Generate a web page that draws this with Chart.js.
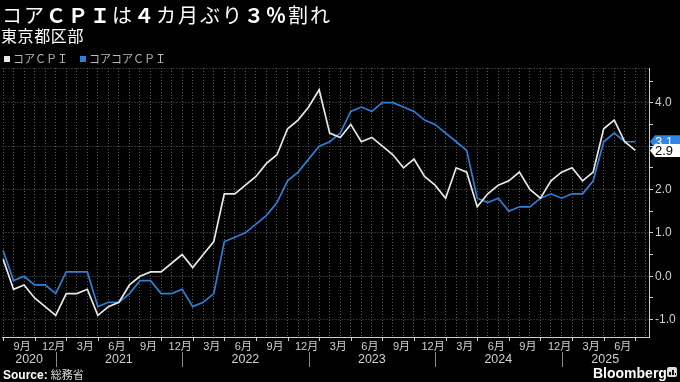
<!DOCTYPE html>
<html><head><meta charset="utf-8">
<script src="https://cdn.jsdelivr.net/npm/chart.js@4.4.1/dist/chart.umd.min.js"></script>
<style>
html,body{margin:0;padding:0;background:#000;width:680px;height:382px;overflow:hidden;}
body{position:relative;font-family:"Liberation Sans","Noto Sans CJK JP",sans-serif;color:#fff;}
#c{position:absolute;left:0;top:0;}
.t{position:absolute;white-space:nowrap;}
#title{left:2px;top:3px;font-family:"Noto Sans CJK JP";font-size:20px;line-height:24px;letter-spacing:2px;color:#fff;}
#title b{font-weight:700;}
#sub{left:1px;top:25px;font-family:"Noto Sans CJK JP";font-size:16px;line-height:20px;letter-spacing:0.6px;color:#fff;}
#legend{left:4px;top:51px;font-family:"Noto Sans CJK JP";font-size:11px;line-height:14px;color:#bbb;}
#legend span.item{margin-right:12px;}
.sw{display:inline-block;width:6px;height:6px;margin-right:3px;vertical-align:1px;}
#src{left:3px;top:368px;font-size:11px;line-height:14px;color:#ddd;}
#src b{color:#fff;font-size:12px;}
#bbg{left:593px;top:364px;font-size:14px;line-height:18px;font-weight:bold;color:#fff;}
#icon{position:absolute;left:667px;top:367px;width:10px;height:10px;background:#ddd;border-radius:2px;}
#icon i{position:absolute;bottom:2px;width:2px;background:#000;}
</style></head>
<body>
<canvas id="c" width="680" height="382"></canvas>
<div class="t" id="title">コア<b>ＣＰＩ</b>は<b>４</b>カ月ぶり<b>３％</b>割れ</div>
<div class="t" id="sub">東京都区部</div>
<div class="t" id="legend"></div>
<div class="t" id="src"><b>Source:</b> 総務省</div>
<div class="t" id="bbg">Bloomberg</div>
<div id="icon"><i style="left:2px;height:3px"></i><i style="left:5px;height:5px"></i><i style="left:8px;height:2px;width:1px"></i></div>
<script>
// ---- data ----
const months = [
 '2020-07','2020-08','2020-09','2020-10','2020-11','2020-12',
 '2021-01','2021-02','2021-03','2021-04','2021-05','2021-06','2021-07','2021-08','2021-09','2021-10','2021-11','2021-12',
 '2022-01','2022-02','2022-03','2022-04','2022-05','2022-06','2022-07','2022-08','2022-09','2022-10','2022-11','2022-12',
 '2023-01','2023-02','2023-03','2023-04','2023-05','2023-06','2023-07','2023-08','2023-09','2023-10','2023-11','2023-12',
 '2024-01','2024-02','2024-03','2024-04','2024-05','2024-06','2024-07','2024-08','2024-09','2024-10','2024-11','2024-12',
 '2025-01','2025-02','2025-03','2025-04','2025-05','2025-06','2025-07'
];
const coreCPI = [
 0.4,-0.3,-0.2,-0.5,-0.7,-0.9,
 -0.4,-0.4,-0.3,-0.9,-0.7,-0.6,-0.2,0.0,0.1,0.1,0.3,0.5,
 0.2,0.5,0.8,1.9,1.9,2.1,2.3,2.6,2.8,3.4,3.6,3.9,
 4.3,3.3,3.2,3.5,3.1,3.2,3.0,2.8,2.5,2.7,2.3,2.1,
 1.8,2.5,2.4,1.6,1.9,2.1,2.2,2.4,2.0,1.8,2.2,2.4,
 2.5,2.2,2.4,3.4,3.6,3.1,2.9
];
const coreCoreCPI = [
 0.6,-0.1,0.0,-0.2,-0.2,-0.4,
 0.1,0.1,0.1,-0.7,-0.6,-0.6,-0.4,-0.1,-0.1,-0.4,-0.4,-0.3,
 -0.7,-0.6,-0.4,0.8,0.9,1.0,1.2,1.4,1.7,2.2,2.4,2.7,
 3.0,3.1,3.3,3.8,3.9,3.8,4.0,4.0,3.9,3.8,3.6,3.5,
 3.3,3.1,2.9,1.8,1.7,1.8,1.5,1.6,1.6,1.8,1.9,1.8,
 1.9,1.9,2.2,3.1,3.3,3.1,3.1
];
const seriesNames = ['コアＣＰＩ','コアコアＣＰＩ'];
const seriesColors = ['#e8e8e8','#2f7fd6'];
const labelBoxColors = ['#ffffff','#2f86e8'];
const labelTextColors = ['#000000','#ffffff'];
const xLabelMonths = [3,6,9,12];
const yearLabels = ['2020','2021','2022','2023','2024','2025'];
const yTickValues = [-1,0,1,2,3,4];

const monthNum = i => parseInt(months[i].slice(5),10);
const toPts = arr => arr.map((v,i)=>({x:i,y:v}));

const FONT = '"Liberation Sans","Noto Sans CJK JP",sans-serif';

const extras = {
  id:'extras',
  afterDatasetsDraw(chart){
    const ctx = chart.ctx, ys = chart.scales.y, xs = chart.scales.x, a = chart.chartArea;
    ctx.save();
    // top dotted line
    ctx.strokeStyle='#5a5a5a'; ctx.lineWidth=1; ctx.setLineDash([1,2]);
    ctx.beginPath(); ctx.moveTo(a.left, a.top+0.5); ctx.lineTo(a.right, a.top+0.5); ctx.stroke();
    ctx.setLineDash([]);
    // end-value labels (blue first, white on top)
    [1,0].forEach(k=>{
      const data = chart.data.datasets[k].data;
      const v = data[data.length-1].y;
      const yc = ys.getPixelForValue(v);
      const x0 = a.right+1, h = 6.5;
      ctx.fillStyle = labelBoxColors[k];
      ctx.beginPath();
      ctx.moveTo(x0, yc); ctx.lineTo(x0+5, yc-h); ctx.lineTo(680, yc-h);
      ctx.lineTo(680, yc+h); ctx.lineTo(x0+5, yc+h); ctx.closePath(); ctx.fill();
      ctx.fillStyle = labelTextColors[k];
      ctx.font = '13px '+FONT; ctx.textBaseline='middle'; ctx.textAlign='left';
      ctx.fillText(v.toFixed(1), x0+5, yc+1);
    });
    // quarter tick marks on x axis
    ctx.strokeStyle='#cfcfcf'; ctx.lineWidth=1;
    for(let i=0;i<months.length;i++){
      if(monthNum(i)%3===1){
        const x = Math.round(xs.getPixelForValue(i))+0.5;
        ctx.beginPath(); ctx.moveTo(x, a.bottom); ctx.lineTo(x, a.bottom+4); ctx.stroke();
      }
    }
    // year separators and labels
    const seps = [];
    for(let i=0;i<months.length;i++) if(monthNum(i)===12) seps.push(xs.getPixelForValue(i));
    ctx.strokeStyle='#8a8a8a';
    seps.forEach(x=>{ const px=Math.round(x)+0.5; ctx.beginPath(); ctx.moveTo(px, a.bottom+15); ctx.lineTo(px, a.bottom+30); ctx.stroke(); });
    const bounds = [a.left, ...seps, a.right];
    ctx.fillStyle='#d0d0d0'; ctx.font='12.5px '+FONT; ctx.textAlign='center'; ctx.textBaseline='middle';
    yearLabels.forEach((yl,j)=>{ ctx.fillText(yl, (bounds[j]+bounds[j+1])/2, a.bottom+23); });
    ctx.restore();
  }
};

const chart = new Chart(document.getElementById('c'), {
  type:'line',
  data:{ datasets:[
    {label:seriesNames[0], data:toPts(coreCPI), borderColor:seriesColors[0], backgroundColor:seriesColors[0], borderWidth:1.7, pointRadius:0, tension:0},
    {label:seriesNames[1], data:toPts(coreCoreCPI), borderColor:seriesColors[1], backgroundColor:seriesColors[1], borderWidth:1.7, pointRadius:0, tension:0}
  ]},
  options:{
    responsive:false, animation:false, devicePixelRatio:1,
    layout:{padding:{top:68,left:0,right:0,bottom:0}},
    plugins:{legend:{display:false}, tooltip:{enabled:false}},
    scales:{
      x:{
        type:'linear', min:-0.05, max:61.3,
        afterFit(s){ s.height = 45; },
        ticks:{ stepSize:1, autoSkip:false, maxRotation:0, includeBounds:false, padding:3, labelOffset:-2,
          color:'#d0d0d0', font:{family:FONT, size:11},
          callback(v){ if(!Number.isInteger(v) || v<0 || v>=months.length) return ''; const m=monthNum(v); return xLabelMonths.includes(m) ? m+'月' : ''; } },
        grid:{ color:ctx=> (ctx.tick && Number.isInteger(ctx.tick.value)) ? '#5a5a5a' : 'transparent', drawTicks:false, lineWidth:1 },
        border:{ display:true, color:'#cfcfcf', width:1, dash:[1,2] }
      },
      y:{
        position:'right', min:-1.4, max:4.8,
        afterFit(s){ s.width = 31; },
        ticks:{ stepSize:0.5, includeBounds:false, padding:2, color:'#d0d0d0', font:{family:FONT, size:12},
          callback(v){ return yTickValues.includes(v) ? v.toFixed(1) : ''; } },
        grid:{ color:ctx=> (ctx.tick && yTickValues.includes(ctx.tick.value)) ? '#5a5a5a' : 'transparent',
          tickColor:'#cfcfcf', tickLength:4, tickBorderDash:[], drawTicks:true, lineWidth:1 },
        border:{ display:true, color:'#cfcfcf', width:1, dash:[1,2] }
      }
    }
  },
  plugins:[extras]
});

// legend built from the datasets
const lg = document.getElementById('legend');
chart.data.datasets.forEach(ds=>{
  const s = document.createElement('span'); s.className='item';
  s.innerHTML = '<span class="sw" style="background:'+ds.borderColor+'"></span>'+ds.label;
  lg.appendChild(s);
});
</script>
</body></html>
